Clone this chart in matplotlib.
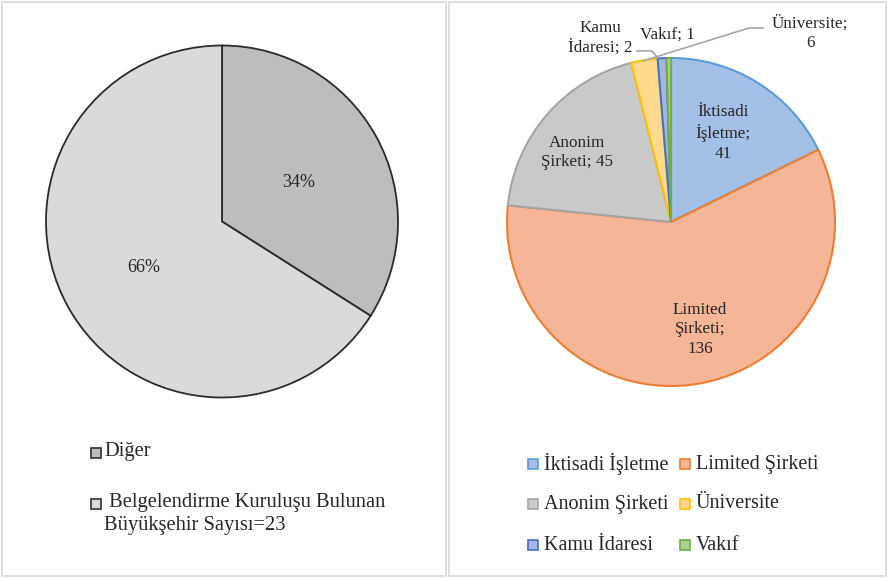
import matplotlib
matplotlib.use("Agg")
import matplotlib.pyplot as plt
from matplotlib.patches import Rectangle

plt.rcParams['font.family'] = ['Liberation Serif', 'DejaVu Serif']

W, H = 888, 578

# Left chart: share of metropolitan municipalities
left_labels = ["Diğer", " Belgelendirme Kuruluşu Bulunan\nBüyükşehir Sayısı=23"]
left_values = [34, 66]
left_colors = ["#bdbdbd", "#dadada"]

# Right chart: certification bodies by legal form
right_labels = ["İktisadi İşletme", "Limited Şirketi", "Anonim Şirketi",
                "Üniversite", "Kamu İdaresi", "Vakıf"]
right_values = [41, 136, 45, 6, 2, 1]
right_colors = ["#a3c1e6", "#f5b597", "#c9c9c9", "#ffd98e", "#a5b4e0", "#a9d08e"]
right_edges = ["#5b9bd5", "#ed7d31", "#a5a5a5", "#ffc000", "#4472c4", "#70ad47"]

TXT = "#262626"


def fx(x):
    return x / W


def fy(y):
    return 1 - y / H


def pie_axes(fig, cx, cy, r):
    return fig.add_axes([fx(cx - r), fy(cy + r), 2 * r / W, 2 * r / H])


fig = plt.figure(figsize=(W / 100, H / 100), dpi=100)

# panel frames
for x0, x1 in [(2, 446), (449, 886)]:
    fig.add_artist(Rectangle((fx(x0), fy(576)), (x1 - x0) / W, 574 / H,
                             transform=fig.transFigure, fill=False,
                             edgecolor="#d9d9d9", linewidth=1.2))

# ---- left pie ----
axl = pie_axes(fig, 222, 221.5, 176)
axl.pie(left_values, colors=left_colors, startangle=90, counterclock=False,
        wedgeprops=dict(edgecolor="#2b2b2b", linewidth=1.3))
axl.set_aspect('auto')
axl.set_xlim(-1, 1)
axl.set_ylim(-1, 1)
axl.axis('off')
left_pos = [(0.4375, 0.219), (-0.443, -0.259)]
for v, (x, y) in zip(left_values, left_pos):
    axl.text(x, y, f"{v}%", ha='center', va='center', fontsize=13, color=TXT)

# left legend
ly = [452, 503]
for i, (lab, c) in enumerate(zip(left_labels, left_colors)):
    fig.add_artist(Rectangle((fx(91), fy(ly[i] + 5.5)), 10 / W, 10 / H,
                             transform=fig.transFigure, facecolor=c,
                             edgecolor="#303030", linewidth=1.2))
    fig.text(fx(104), fy(ly[i] - 10), lab, ha='left', va='top', fontsize=14.8,
             color=TXT, linespacing=1.3)

# ---- right pie ----
axr = pie_axes(fig, 671, 222, 164)
wedges, _ = axr.pie(right_values, colors=right_colors, startangle=90, counterclock=False,
                    wedgeprops=dict(linewidth=1.5))
for w, ec in zip(wedges, right_edges):
    w.set_edgecolor(ec)
axr.set_aspect('auto')
axr.set_xlim(-1, 1)
axr.set_ylim(-1, 1)
axr.axis('off')

inside = {
    0: ("İktisadi\nİşletme;\n{}", (0.317, 0.543)),
    1: ("Limited\nŞirketi;\n{}", (0.177, -0.655)),
    2: ("Anonim\nŞirketi; {}", (-0.573, 0.424)),
}
for i, (fmt, (x, y)) in inside.items():
    axr.text(x, y, fmt.format(right_values[i]), ha='center', va='center',
             fontsize=12.3, color=TXT, linespacing=1.3)

outside = {
    3: ("Üniversite;\n{}", (0.848, 1.152)),
    4: ("Kamu\nİdaresi; {}", (-0.433, 1.122)),
    5: ("Vakıf; {}", (-0.024, 1.14)),
}
for i, (fmt, (x, y)) in outside.items():
    axr.text(x, y, fmt.format(right_values[i]), ha='center', va='center',
             fontsize=12.3, color=TXT, linespacing=1.3, clip_on=False)

# leader lines
axr.plot([0.561, 0.476, -0.171], [1.183, 1.183, 0.982], color="#a6a6a6", lw=1.2, clip_on=False)
axr.plot([-0.207, -0.116, -0.079], [1.043, 1.043, 1.0], color="#a6a6a6", lw=1.2, clip_on=False)

# right legend
cols = [528, 680]
rows = [464, 504, 545]
for i, (lab, c, ec) in enumerate(zip(right_labels, right_colors, right_edges)):
    r, k = divmod(i, 2)
    x, y = cols[k], rows[r]
    fig.add_artist(Rectangle((fx(x), fy(y + 5)), 10 / W, 10 / H,
                             transform=fig.transFigure, facecolor=c,
                             edgecolor=ec, linewidth=1.2))
    fig.text(fx(x + 16), fy(y), lab, ha='left', va='center', fontsize=14.5,
             color=TXT)

fig.savefig("out.png", dpi=100)
